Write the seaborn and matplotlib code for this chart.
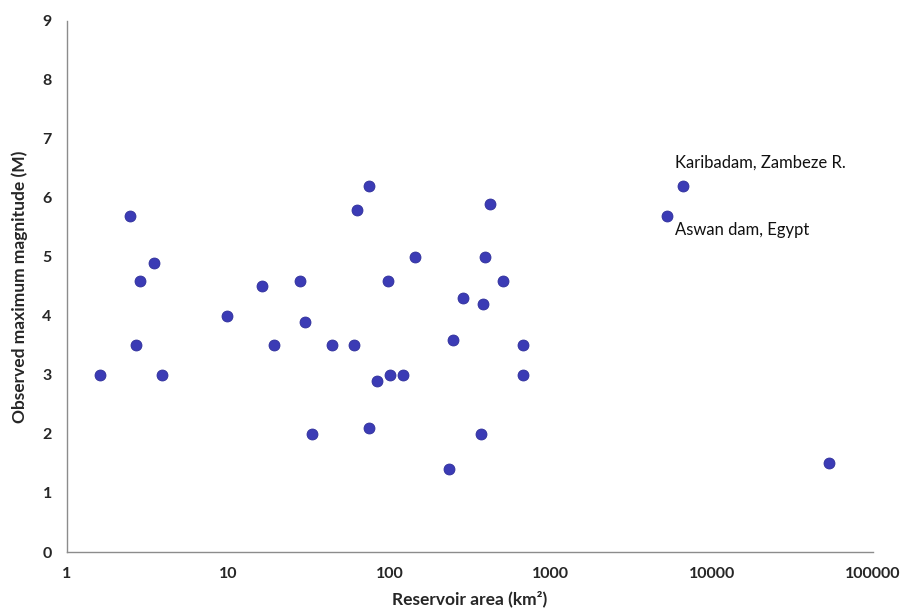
"""
Scatter plot: observed maximum magnitude vs reservoir area (log scale).
"""

import matplotlib
matplotlib.use("Agg")
import matplotlib.pyplot as plt
import pandas as pd
import seaborn as sns

# reservoir area (km2) and observed max magnitude
area_km2 = [
    1.6, 2.46, 2.85, 2.68, 3.48, 3.88, 9.8, 16.1, 19.3,
    27.9, 30.0, 33.2, 44.2, 60.4, 62.8, 74.5, 74.5, 83.5, 97.3, 101, 122, 144,
    248, 233, 286, 372, 383, 390, 419, 505, 674, 674,
    5300, 6620, 53200,
]
magnitude = [
    3.0, 5.7, 4.6, 3.5, 4.9, 3.0, 4.0, 4.5, 3.5,
    4.6, 3.9, 2.0, 3.5, 3.5, 5.8, 6.2, 2.1, 2.9, 4.6, 3.0, 3.0, 5.0,
    3.6, 1.4, 4.3, 2.0, 4.2, 5.0, 5.9, 4.6, 3.5, 3.0,
    5.7, 6.2, 1.5,
]

x_ticks = [1, 10, 100, 1000, 10000, 100000]
y_ticks = list(range(0, 10))

annotations = [
    ("Karibadam, Zambeze R.", 5880, 6.59),
    ("Aswan dam, Egypt", 5880, 5.46),
]


def make_plot():
    df = pd.DataFrame({"area": area_km2, "mag": magnitude})

    sns.set_style("white")
    plt.rcParams["font.family"] = ["Lato", "DejaVu Sans"]

    fig = plt.figure(figsize=(9.02, 6.13), dpi=100)
    ax = fig.add_axes([0.0743, 0.0995, 0.8937, 0.8665])

    sns.scatterplot(
        data=df, x="area", y="mag", ax=ax,
        color="#3b3bb5", s=62, edgecolor="#2e2e9a", linewidth=0.6,
    )

    ax.set_xscale("log")
    ax.set_xlim(1, 100000)
    ax.set_ylim(0, 9)
    ax.set_xticks(x_ticks)
    ax.set_xticklabels([str(t) for t in x_ticks])
    ax.set_yticks(y_ticks)
    ax.minorticks_off()

    for label, x, y in annotations:
        ax.text(x, y, label, fontsize=12, va="center", ha="left", color="#111111")

    for side in ["top", "right"]:
        ax.spines[side].set_visible(False)
    for side in ["left", "bottom"]:
        ax.spines[side].set_color("#8c8c8c")
        ax.spines[side].set_linewidth(1.0)

    ax.tick_params(axis="both", direction="out", length=4, width=1,
                   color="#8c8c8c", labelsize=11.5, pad=7)
    for lbl in ax.get_xticklabels() + ax.get_yticklabels():
        lbl.set_fontweight("bold")

    ax.set_xlabel("Reservoir area (km²)", fontsize=12.5, fontweight="bold",
                  labelpad=7)
    ax.set_ylabel("Observed maximum magnitude (M)", fontsize=12.5,
                  fontweight="bold", labelpad=10)

    fig.savefig("out.png", dpi=100)


if __name__ == "__main__":
    make_plot()
